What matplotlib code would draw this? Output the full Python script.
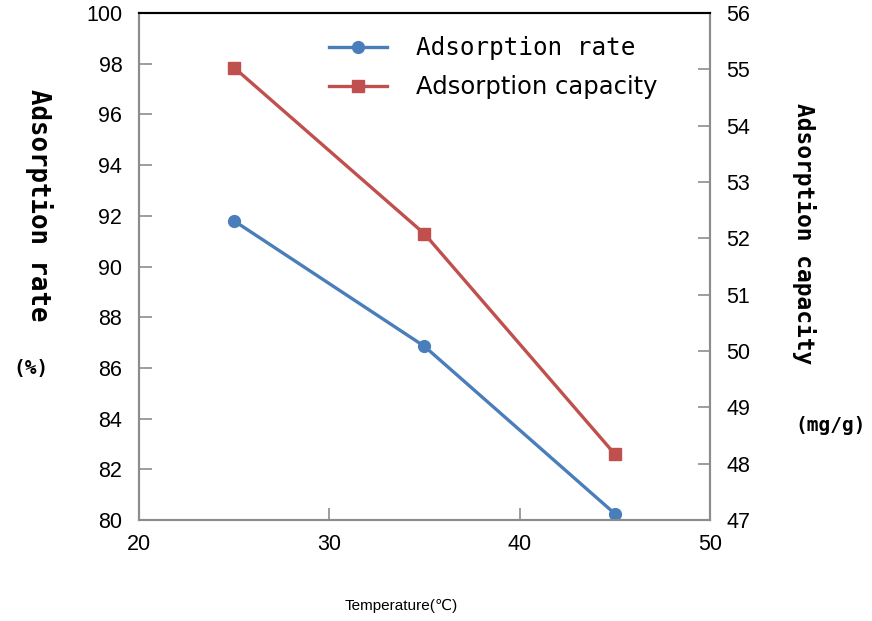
import matplotlib.pyplot as plt

temperature = [25, 35, 45]
adsorption_rate = [91.8, 86.85, 80.25]
adsorption_capacity = [55.03, 52.08, 48.17]

x_ticks = [20, 30, 40, 50]
rate_ticks = list(range(80, 101, 2))
capacity_ticks = list(range(47, 57))

BLUE = "#4a7ebb"
RED = "#c0504d"
SPINE = "#8c8c8c"
TICK_FONT = ["Liberation Sans Narrow", "Liberation Sans", "DejaVu Sans"]
MONO = ["DejaVu Sans Mono"]

fig = plt.figure(figsize=(8.72, 6.21), dpi=100)
ax = fig.add_axes([0.1594, 0.1626, 0.6548, 0.8164])
ax2 = ax.twinx()

(rate_line,) = ax.plot(temperature, adsorption_rate, color=BLUE, marker="o",
                       markersize=8.5, linewidth=2.4, label="Adsorption rate")
(cap_line,) = ax2.plot(temperature, adsorption_capacity, color=RED, marker="s",
                       markersize=8.5, linewidth=2.4, label="Adsorption capacity")

ax.set_xlim(20, 50)
ax.set_ylim(80, 100)
ax2.set_ylim(47, 56)
ax.set_xticks(x_ticks)
ax.set_yticks(rate_ticks)
ax2.set_yticks(capacity_ticks)

for a in (ax, ax2):
    for side in ("left", "right", "bottom"):
        a.spines[side].set_color(SPINE)
        a.spines[side].set_linewidth(1.5)
    a.spines["top"].set_color("black")
    a.spines["top"].set_linewidth(1.5)
    a.tick_params(direction="in", length=9, width=1.2, color=SPINE,
                  labelsize=15.5, pad=12)
    for lbl in a.get_xticklabels() + a.get_yticklabels():
        lbl.set_family(TICK_FONT)

ax.tick_params(axis="x", pad=10)

ax.set_ylabel("Adsorption rate", rotation=-90, fontsize=18.5, fontweight="bold",
              family=MONO)
ax.yaxis.set_label_coords(-0.2, 0.62)
fig.text(0.036, 0.406, "(%)", fontsize=14, fontweight="bold", family=MONO,
         ha="center", va="center")

ax2.set_ylabel("Adsorption capacity", rotation=-90, fontsize=16.5,
               fontweight="bold", family=MONO)
ax2.yaxis.set_label_coords(1.185, 0.565)
fig.text(0.952, 0.315, "(mg/g)", fontsize=14, fontweight="bold", family=MONO,
         ha="center", va="center")

ax.set_xlabel("Temperature(\u2103)", fontsize=11, family=TICK_FONT)
ax.xaxis.set_label_coords(0.46, -0.155)

leg = ax.legend(handles=[rate_line, cap_line], loc="upper center",
                bbox_to_anchor=(0.62, 1.0), frameon=False, fontsize=17.5,
                handlelength=2.4, handletextpad=1.2, labelspacing=0.62,
                borderaxespad=0.55)
leg.get_texts()[0].set_family(MONO)

fig.savefig("out.png", dpi=100)
